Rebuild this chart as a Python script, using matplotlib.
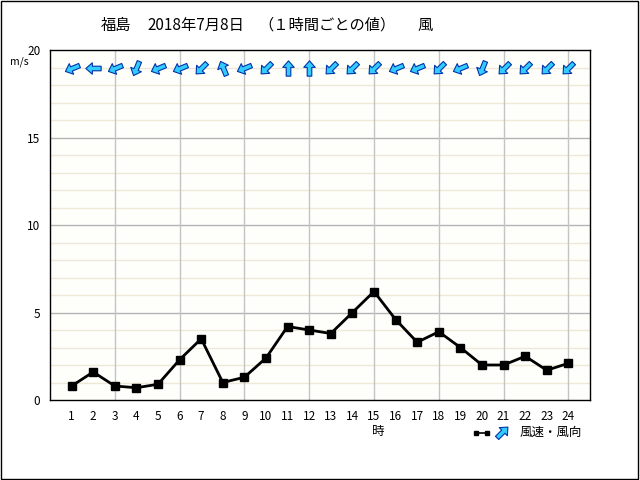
import numpy as np
import matplotlib
matplotlib.use("Agg")
import matplotlib.pyplot as plt
from matplotlib.path import Path
from matplotlib.markers import MarkerStyle
from matplotlib.transforms import Affine2D
from matplotlib.patches import Rectangle

plt.rcParams['font.family'] = ['Noto Sans CJK JP', 'DejaVu Sans']

hours = list(range(1, 25))
speed = [0.8, 1.6, 0.8, 0.7, 0.9, 2.3, 3.5, 1.0, 1.3, 2.4, 4.2, 4.0,
         3.8, 5.0, 6.2, 4.6, 3.3, 3.9, 3.0, 2.0, 2.0, 2.5, 1.7, 2.1]
# wind direction (from), 16-point compass
direction = ['ENE', 'E', 'ENE', 'NNE', 'ENE', 'ENE', 'NE', 'SSE', 'ENE', 'NE', 'S', 'S',
             'NE', 'NE', 'NE', 'ENE', 'ENE', 'NE', 'ENE', 'NNE', 'NE', 'NE', 'NE', 'NE']
compass = ['N', 'NNE', 'NE', 'ENE', 'E', 'ESE', 'SE', 'SSE',
           'S', 'SSW', 'SW', 'WSW', 'W', 'WNW', 'NW', 'NNW']
yticks = [0, 5, 10, 15, 20]
title_parts = ['福島', '2018年7月8日', '（１時間ごとの値）', '風']
title_x = [101, 147, 258, 417]

fig = plt.figure(figsize=(6.4, 4.8), dpi=100)
fig.patch.set_facecolor('white')
fig.add_artist(Rectangle((0.001, 0.002), 0.996, 0.996, transform=fig.transFigure,
                         fill=False, edgecolor='black', linewidth=1))

ax = fig.add_axes([50/640, 80/480, 540/640, 350/480])
ax.set_facecolor('#fefefb')
ax.set_xlim(0, 25)
ax.set_ylim(0, 20)

# grid
for y in range(1, 20):
    if y % 5 == 0:
        ax.axhline(y, color='#b4b4b4', lw=1, zorder=1)
    else:
        ax.axhline(y, color='#efe8d6', lw=1, zorder=1)
for x in range(3, 25, 3):
    ax.axvline(x, color='#c4c4c4', lw=1, zorder=1)

ax.plot(hours, speed, color='black', lw=2, marker='s', markersize=6, zorder=3)

# arrows
arrow_verts = [(0, 1), (0.75, 0.15), (0.3, 0.15), (0.3, -1), (-0.3, -1),
               (-0.3, 0.15), (-0.75, 0.15), (0, 1)]
arrow_path = Path(arrow_verts, closed=True)

def arrow_marker(frm):
    ang_from = compass.index(frm) * 22.5  # clockwise from north
    to = ang_from + 180
    return MarkerStyle(arrow_path, transform=Affine2D().rotate_deg(-to))

for h, d in zip(hours, direction):
    ax.plot([h], [19], marker=arrow_marker(d), markersize=11, color='#33ccff',
            markeredgecolor='#0033aa', markeredgewidth=0.8, linestyle='none', zorder=4)

ax.set_xticks(hours)
ax.set_xticklabels([str(h) for h in hours], fontsize=8.5)
ax.set_yticks(yticks)
ax.set_yticklabels([str(v) for v in yticks], fontsize=8.5)
ax.tick_params(length=0, pad=7)
for s in ax.spines.values():
    s.set_color('black')
    s.set_linewidth(1)

for t, x in zip(title_parts, title_x):
    fig.text(x/640, 1 - 25/480, t, fontsize=11, ha='left', va='center')
fig.text(10/640, 1 - 62/480, 'm/s', fontsize=7.5, ha='left', va='center')
fig.text(378/640, 1 - 432/480, '時', fontsize=9, ha='center', va='center')

# legend
fig.add_artist(plt.Line2D([476/640, 487/640], [1 - 433/480] * 2, color='black', lw=1.2,
                          marker='s', markersize=2.5, transform=fig.transFigure))
fig.add_artist(plt.Line2D([502/640], [1 - 432/480], marker=arrow_marker('SW'), markersize=11,
                          color='#33ccff', markeredgecolor='#0033aa', markeredgewidth=0.8,
                          linestyle='none', transform=fig.transFigure))
fig.text(520/640, 1 - 432/480, '風速・風向', fontsize=9, ha='left', va='center')

fig.savefig('out.png', dpi=100)
